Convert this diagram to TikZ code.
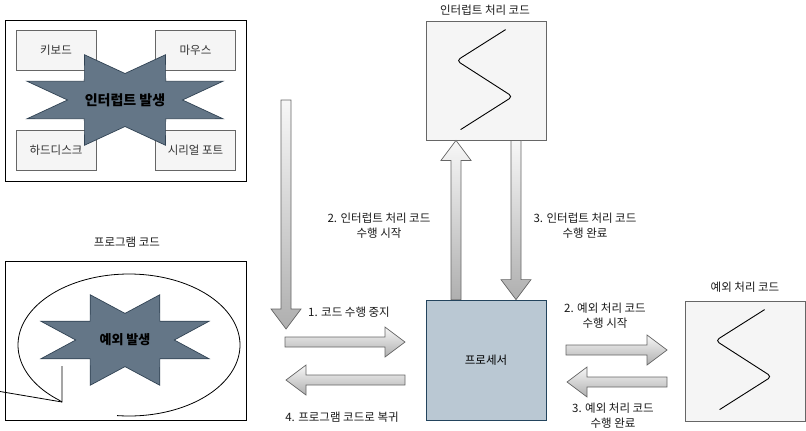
\documentclass[tikz,border=0pt]{standalone}
\usepackage{fontspec}
\setmainfont{Noto Sans CJK KR}
\usetikzlibrary{calc}
\definecolor{boxfill}{HTML}{F5F5F5}
\definecolor{boxline}{HTML}{666666}
\definecolor{procfill}{HTML}{BAC8D3}
\definecolor{procline}{HTML}{23445D}
\definecolor{starfill}{HTML}{647687}
\definecolor{starline}{HTML}{314354}
\definecolor{arrtop}{HTML}{F7F7F7}
\definecolor{arrbot}{HTML}{AFAFAF}
\newcommand{\blockarrow}[2]{%
  \coordinate (hb) at ($(#2)!20pt!(#1)$);
  \draw[barrow] ($(#1)!5pt!90:(#2)$) -- ($(hb)!5pt!-90:(#1)$) -- ($(hb)!15pt!-90:(#1)$) -- (#2)
    -- ($(hb)!15pt!90:(#1)$) -- ($(hb)!5pt!90:(#1)$) -- ($(#1)!5pt!-90:(#2)$) -- cycle;}
\begin{document}
\begin{tikzpicture}[x=1pt,y=-1pt,
  lbl/.style={inner sep=0pt, align=center, font=\fontsize{11.5}{15}\selectfont, text=black!90},
  smallbox/.style={draw=boxline, fill=boxfill, line width=0.8pt, minimum width=80pt, minimum height=40pt, inner sep=0pt, font=\fontsize{11.5}{13}\selectfont, text=black!80},
  codebox/.style={draw=boxline, fill=boxfill, line width=0.8pt, minimum width=120pt, minimum height=120pt, inner sep=0pt},
  frame/.style={draw=black, line width=0.9pt, fill=white, inner sep=0pt},
  barrow/.style={draw=boxline, line width=0.7pt, top color=arrtop, bottom color=arrbot, line join=miter},
  burst/.style={draw=starline, fill=starfill, line width=0.7pt, line join=miter},
  zig/.style={draw=black, line width=0.9pt, rounded corners=4pt},
  callout/.style={draw=black, line width=0.8pt}]
\useasboundingbox (0,0) rectangle (806,431);

% ---------- interrupt sources frame ----------
\node[frame, minimum width=240.5pt, minimum height=161pt] (intframe) at (125.75,100.5) {};
\node[smallbox] (kbd) at (56,50) {키보드};
\node[smallbox] (mouse) at (195.5,50) {마우스};
\node[smallbox] (hdd) at (56,150) {하드디스크};
\node[smallbox] (serial) at (195.5,150) {시리얼 포트};
\draw[burst] plot[samples at={0,22.5,...,337.5}]
  ({125+(57.5+48.5*mod(round(\x/22.5),2))*cos(\x)},{100+(26.5+22.5*mod(round(\x/22.5),2))*sin(\x)}) -- cycle;
\node[inner sep=0pt, font=\bfseries\fontsize{14}{16}\selectfont] (intburst) at (125,100) {인터럽트 발생};

% ---------- program code frame ----------
\node[lbl] (progtitle) at (127,242) {프로그램 코드};
\node[frame, minimum width=240.5pt, minimum height=159pt] (progframe) at (125.75,340.5) {};
\coordinate (callL) at (0,391.5);
\coordinate (callT) at (62,402);
\coordinate (callI) at (62,366);
\draw[callout] plot[domain=-230.8:96.2, samples=140] ({129+111*cos(\x)},{345+71*sin(\x)});
\draw[callout] (callL) -- (callT) -- (callI);
\draw[callout] (58.8,400) -- (callT);
\draw[burst] plot[samples at={0,22.5,...,337.5}]
  ({125+(49.3+41.7*mod(round(\x/22.5),2))*cos(\x)},{340+(26.6+22.4*mod(round(\x/22.5),2))*sin(\x)}) -- cycle;
\node[inner sep=0pt, font=\bfseries\fontsize{13}{15}\selectfont] (excburst) at (125,340) {예외 발생};

% ---------- processor and code boxes ----------
\node[draw=procline, fill=procfill, line width=0.8pt, minimum width=120pt, minimum height=120pt, inner sep=0pt,
      font=\fontsize{11.5}{13}\selectfont] (proc) at (486,360) {프로세서};
\node[codebox, minimum height=119pt] (intr) at (486,80.5) {};
\node[lbl] (intrtitle) at (485,10) {인터럽트 처리 코드};
\node[codebox] (exc) at (745,361) {};
\node[lbl] (exctitle) at (745,287) {예외 처리 코드};

\draw[zig] ($(intr.north west)+(80,9)$) -- ($(intr.north west)+(31,40)$) -- ($(intr.north west)+(87,76)$) -- ($(intr.north west)+(35,109)$);
\draw[zig] ($(exc.north west)+(80,9)$) -- ($(exc.north west)+(31,40)$) -- ($(exc.north west)+(87,76)$) -- ($(exc.north west)+(35,109)$);

% ---------- block arrows ----------
\coordinate (a0s) at (286,100);
\coordinate (a0e) at (286,329);
\blockarrow{a0s}{a0e}
\coordinate (a1s) at (285,342);
\coordinate (a1e) at (405,342);
\blockarrow{a1s}{a1e}
\coordinate (a4s) at (405,380);
\coordinate (a4e) at (286,380);
\blockarrow{a4s}{a4e}
\coordinate (ups) at ($(proc.north)+(-30,0)$);
\coordinate (upe) at ($(intr.south)+(-30,0)$);
\blockarrow{ups}{upe}
\coordinate (dns) at ($(intr.south)+(30,0)$);
\coordinate (dne) at ($(proc.north)+(30,0)$);
\blockarrow{dns}{dne}
\coordinate (e1s) at (566,350);
\coordinate (e1e) at (667,350);
\blockarrow{e1s}{e1e}
\coordinate (e2s) at (667,382);
\coordinate (e2e) at (567,382);
\blockarrow{e2s}{e2e}

% ---------- labels ----------
\node[lbl] (l1) at (349,312) {1. 코드 수행 중지};
\node[lbl] (l4) at (342,417) {4. 프로그램 코드로 복귀};
\node[lbl] (l2) at (379,225.5) {2. 인터럽트 처리 코드\\수행 시작};
\node[lbl] (l3) at (585,225.5) {3. 인터럽트 처리 코드\\수행 완료};
\node[lbl] (le2) at (605,315.5) {2. 예외 처리 코드\\수행 시작};
\node[lbl] (le3) at (613,415.5) {3. 예외 처리 코드\\수행 완료};
\end{tikzpicture}
\end{document}
